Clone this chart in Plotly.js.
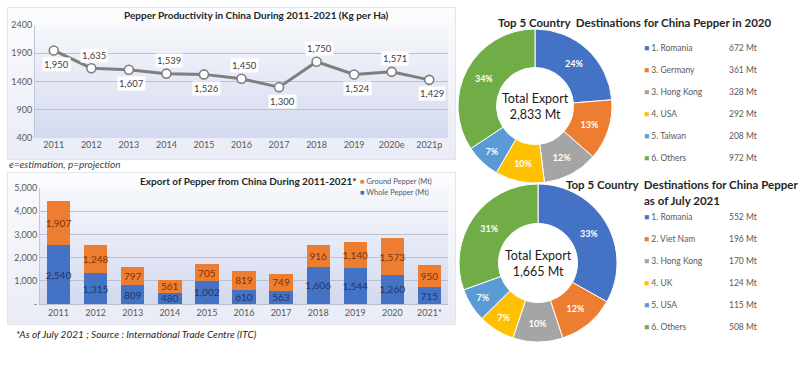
<!DOCTYPE html>
<html>
<head>
<meta charset="utf-8">
<script src="https://cdn.plot.ly/plotly-3.0.1.min.js"></script>
<style>
  html, body { margin:0; padding:0; background:#ffffff; }
  #wrap { position:relative; width:800px; height:382px; overflow:hidden; font-family: Lato, sans-serif; }
  .panel { position:absolute; background:linear-gradient(to bottom, #fbfcfe 0%, #e9ecf6 100%); border:1px solid #e3e5ec; box-sizing:border-box; }
  .plotbg { position:absolute; background:linear-gradient(to bottom, #f7f8fc 0%, #d3d9ef 100%); }
  #chart { position:absolute; left:0; top:0; width:800px; height:382px; }
</style>
</head>
<body>
<div id="wrap">
  <div class="panel" style="left:7px; top:7px; width:449px; height:153px;"></div>
  <div class="plotbg" style="left:35px; top:25px; width:413px; height:113px;"></div>
  <div class="panel" style="left:7px; top:172px; width:449px; height:153px;"></div>
  <div class="plotbg" style="left:40px; top:188px; width:408px; height:116px;"></div>
  <div id="chart"></div>
</div>
<script>
// ---------- DATA ----------
const prodYears = ['2011','2012','2013','2014','2015','2016','2017','2018','2019','2020e','2021p'];
const productivity = [1950, 1635, 1607, 1539, 1526, 1450, 1300, 1750, 1524, 1571, 1429];
const prodTicks = [400, 900, 1400, 1900, 2400];

const exportYears = ['2011','2012','2013','2014','2015','2016','2017','2018','2019','2020','2021*'];
const wholePepper = [2540, 1315, 809, 480, 1002, 610, 563, 1606, 1544, 1260, 715];
const groundPepper = [1907, 1248, 797, 561, 705, 819, 749, 916, 1140, 1573, 950];
const exportTicks = [0, 1000, 2000, 3000, 4000, 5000];
const exportTickText = ['-', '1,000', '2,000', '3,000', '4,000', '5,000'];
const barSeriesNames = ['Ground Pepper (Mt)', 'Whole Pepper (Mt)'];

const pie2020Labels = ['1. Romania', '3. Germany', '3. Hong Kong', '4. USA', '5. Taiwan', '6. Others'];
const pie2020Values = [672, 361, 328, 292, 208, 972];
const pie2021Labels = ['1. Romania', '2. Viet Nam', '3. Hong Kong', '4. UK', '5. USA', '6. Others'];
const pie2021Values = [552, 196, 170, 124, 115, 508];

// ---------- STYLE ----------
const FONT = 'Lato, sans-serif';
const sliceColors = ['#4472C4', '#ED7D31', '#A5A5A5', '#FFC000', '#5B9BD5', '#70AD47'];
const BLUE = '#4472C4', ORANGE = '#ED7D31';
const fmt = v => v.toLocaleString('en-US');
const W = 800, H = 382;
const px = x => x / W;
const py = y => 1 - y / H;

const traces = [];

// Line chart
traces.push({
  type: 'scatter', mode: 'lines+markers', x: prodYears, y: productivity,
  xaxis: 'x', yaxis: 'y', showlegend: false, hoverinfo: 'skip',
  line: { color: '#7f7f7f', width: 3 },
  marker: { size: 9, color: '#ffffff', line: { color: '#7f7f7f', width: 1.6 } }
});

// Bar chart
function barTrace(name, vals, color, txtColor) {
  return {
    type: 'bar', name: name, x: exportYears, y: vals, showlegend: false,
    xaxis: 'x2', yaxis: 'y2', marker: { color: color },
    texttemplate: '%{y:,}', textposition: 'inside', insidetextanchor: 'middle',
    textangle: 0, constraintext: 'none',
    textfont: { family: FONT, size: 10, color: txtColor },
    hoverinfo: 'skip'
  };
}
traces.push(barTrace(barSeriesNames[1], wholePepper, BLUE, '#1f3864'));
traces.push(barTrace(barSeriesNames[0], groundPepper, ORANGE, '#7a3409'));

// Pies
function pieTrace(labels, values, xd, yd) {
  return {
    type: 'pie', labels: labels, values: values, hole: 0.5, sort: false,
    direction: 'clockwise', rotation: 0, showlegend: false,
    domain: { x: xd, y: yd },
    marker: { colors: sliceColors, line: { color: '#ffffff', width: 1 } },
    texttemplate: '%{percent:.0%}', textposition: 'inside',
    insidetextorientation: 'horizontal',
    textfont: { family: FONT, size: 9, color: '#ffffff', weight: 'bold' },
    hoverinfo: 'skip'
  };
}
traces.push(pieTrace(pie2020Labels, pie2020Values, [px(458), px(612)], [py(183), py(29)]));
traces.push(pieTrace(pie2021Labels, pie2021Values, [px(459), px(617)], [py(342), py(184)]));

// ---------- ANNOTATIONS ----------
const ann = [];
// line data labels (alternating below/above); x given as category index
productivity.forEach((v, i) => {
  ann.push({
    xref: 'x', yref: 'y', x: i, y: v, text: fmt(v), showarrow: false,
    yshift: (i % 2 === 0) ? -14 : 13, xshift: 3,
    bgcolor: '#ffffff', borderpad: 1,
    font: { family: FONT, size: 9.5, color: '#404040' }
  });
});
function text(x, y, t, size, opts) {
  ann.push(Object.assign({
    xref: 'paper', yref: 'paper', x: px(x), y: py(y), text: t, showarrow: false,
    xanchor: 'center', yanchor: 'middle',
    font: { family: FONT, size: size, color: '#262626' }
  }, opts || {}));
}
text(256, 15, '<b>Pepper Productivity in China During 2011-2021 (Kg per Ha)</b>', 10);
text(7, 164, '<i>e=estimation, p=projection</i>', 10, { xanchor: 'left', font: { family: FONT, size: 10, color: '#404040' } });
text(248, 181, '<b>Export of Pepper from China During 2011-2021*</b>', 10);
text(14, 334, '<i>*As of July 2021 ; Source : International Trade Centre (ITC)</i>', 10, { xanchor: 'left', font: { family: FONT, size: 10, color: '#262626' } });

// bar legend
[ORANGE, BLUE].forEach((c, i) => {
  text(358, 181 + i * 12, '<span style="color:' + c + '">■</span> ' + barSeriesNames[i], 7.5,
    { xanchor: 'left', font: { family: FONT, size: 7.5, color: '#595959' } });
});

text(634, 23, '<b>Top 5 Country  Destinations for China Pepper in 2020</b>', 11.5);
text(682, 185, '<b>Top 5 Country  Destinations for China Pepper</b>', 11.5);
text(682, 200, '<b>as of July 2021</b>', 11.5);

const sum = a => a.reduce((s, v) => s + v, 0);
text(535, 106, 'Total Export<br>' + fmt(sum(pie2020Values)) + ' Mt', 12.5, { font: { family: FONT, size: 12.5, color: '#1a1a1a' } });
text(538, 263, 'Total Export<br>' + fmt(sum(pie2021Values)) + ' Mt', 12.5, { font: { family: FONT, size: 12.5, color: '#1a1a1a' } });

function pieLegend(labels, values, y0) {
  labels.forEach((l, i) => {
    const y = y0 + i * 21.9;
    text(642, y, '<span style="color:' + sliceColors[i] + '">■</span> ' + l, 8.5,
      { xanchor: 'left', font: { family: FONT, size: 8.5, color: '#595959' } });
    text(727, y, fmt(values[i]) + ' Mt', 8.5,
      { xanchor: 'left', font: { family: FONT, size: 8.5, color: '#595959' } });
  });
}
pieLegend(pie2020Labels, pie2020Values, 48);
pieLegend(pie2021Labels, pie2021Values, 217);

// ---------- LAYOUT ----------
const tickFont = { family: FONT, size: 9, color: '#595959' };
const layout = {
  width: W, height: H, margin: { l: 0, r: 0, t: 0, b: 0 },
  paper_bgcolor: 'rgba(0,0,0,0)', plot_bgcolor: 'rgba(0,0,0,0)',
  font: { family: FONT },
  barmode: 'stack', bargap: 0.37,
  showlegend: false,
  xaxis: {
    domain: [px(35), px(448)], anchor: 'y', type: 'category',
    range: [-0.5, 10.5], showgrid: false, showline: false, ticks: '',
    tickfont: tickFont, fixedrange: true
  },
  yaxis: {
    domain: [py(138), py(25)], anchor: 'x', range: [400, 2400],
    tickvals: prodTicks, ticktext: prodTicks.map(String),
    showgrid: true, gridcolor: '#bcc0cc', gridwidth: 1, zeroline: false,
    showline: true, linecolor: '#c4c7d1', tickfont: tickFont, ticks: '',
    fixedrange: true
  },
  xaxis2: {
    domain: [px(40), px(448)], anchor: 'y2', type: 'category',
    range: [-0.5, 10.5], showgrid: false, showline: true, linecolor: '#bcc0cc',
    ticks: '', tickfont: tickFont, fixedrange: true
  },
  yaxis2: {
    domain: [py(304), py(188)], anchor: 'x2', range: [0, 5000],
    tickvals: exportTicks, ticktext: exportTickText,
    showgrid: true, gridcolor: '#bcc0cc', gridwidth: 1, zeroline: false,
    showline: true, linecolor: '#c4c7d1', tickfont: tickFont, ticks: '',
    fixedrange: true
  },
  annotations: ann
};

Plotly.newPlot('chart', traces, layout, { staticPlot: true, displayModeBar: false });
</script>
</body>
</html>
